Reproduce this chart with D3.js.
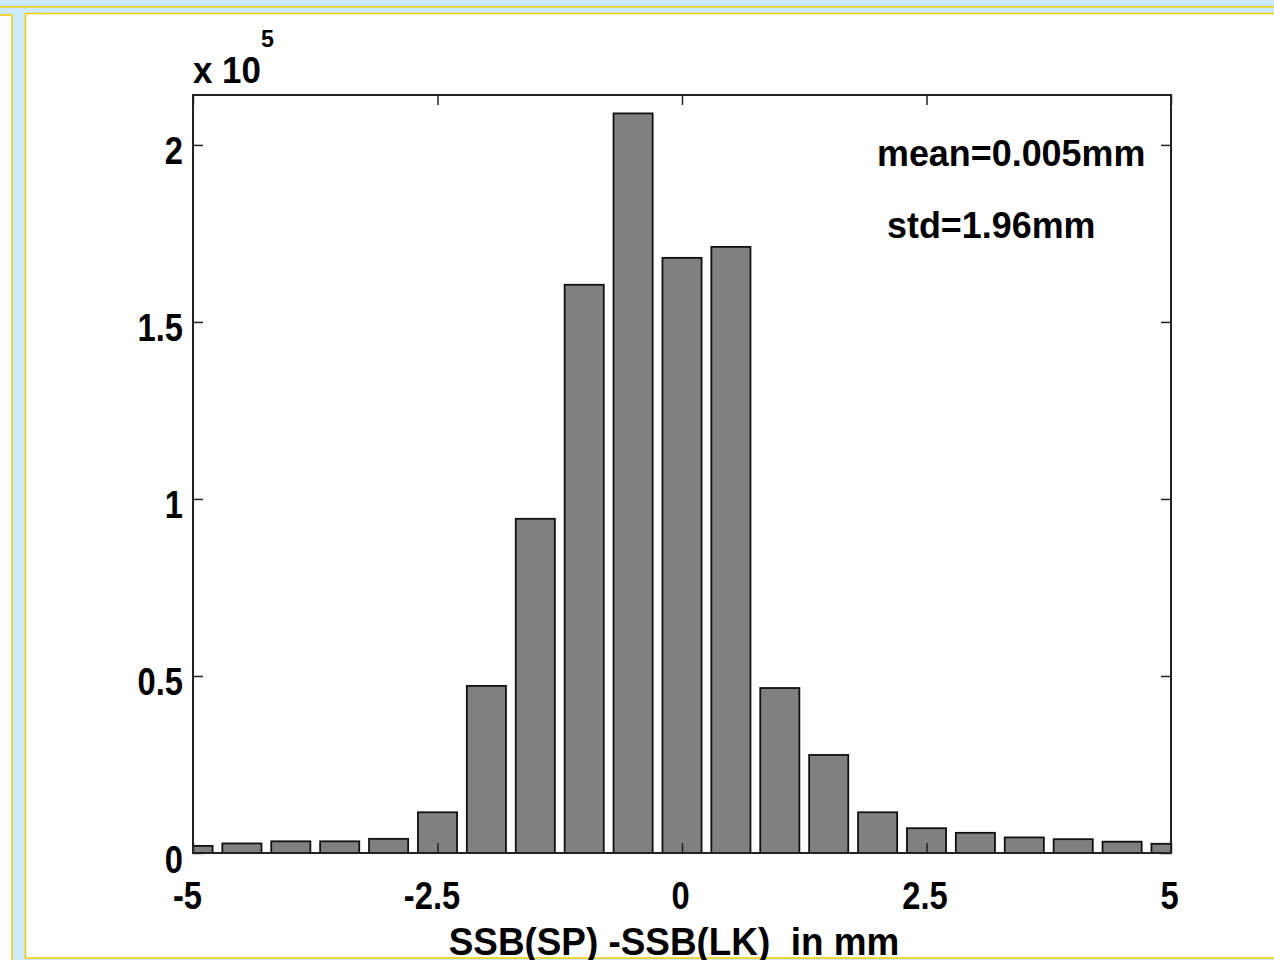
<!DOCTYPE html>
<html lang="en">
<head>
    <meta charset="UTF-8">
    <title>SSB difference histogram</title>
    <script src="https://d3js.org/d3.v7.min.js"></script>
    <style>
        body { margin: 0; background: #cdeafc; }
        text { font-family: "Liberation Sans", Arial, sans-serif; font-weight: bold; fill: #000; }
    </style>
</head>
<body>
    <div id="my_hist"></div>
</body>
</html>

<script>
// bin centres (mm) and counts (x 10^5)
var binCenters = [-5, -4.5, -4, -3.5, -3, -2.5, -2, -1.5, -1, -0.5, 0, 0.5, 1, 1.5, 2, 2.5, 3, 3.5, 4, 4.5, 5];
var counts = [0.020, 0.027, 0.033, 0.033, 0.040, 0.115, 0.472, 0.944, 1.605, 2.089, 1.681, 1.712,
              0.466, 0.277, 0.115, 0.070, 0.057, 0.044, 0.039, 0.032, 0.026];
var xTicks = [-5, -2.5, 0, 2.5, 5];
var yTicks = [0, 0.5, 1, 1.5, 2];
var statsLines = ["mean=0.005mm", "std=1.96mm"];
var xLabel = "SSB(SP) -SSB(LK)  in mm";

var W = 1274, H = 960;
var margin = {top: 95, right: 103, bottom: 107, left: 193},
    width = W - margin.left - margin.right,
    height = H - margin.top - margin.bottom;

var svg = d3.select("#my_hist")
    .append("svg")
        .attr("width", W)
        .attr("height", H);

// window frame around the figure
svg.append("rect").attr("x", 0).attr("y", 0).attr("width", W).attr("height", H).attr("fill", "#cdeafc");
svg.append("rect").attr("x", 0).attr("y", 6).attr("width", W).attr("height", 1.5).attr("fill", "#f8c800");
svg.append("rect").attr("x", -2).attr("y", 15).attr("width", 14).attr("height", H).attr("fill", "#fff")
    .attr("stroke", "#f8c800").attr("stroke-width", 1.5);
svg.append("rect").attr("x", 25.5).attr("y", 13.5).attr("width", W).attr("height", 944.5).attr("fill", "#fff")
    .attr("stroke", "#f8c800").attr("stroke-width", 1.5);

var g = svg.append("g")
    .attr("transform", "translate(" + margin.left + "," + margin.top + ")");

var x = d3.scaleLinear().domain([-5, 5]).range([0, width]);
var y = d3.scaleLinear().domain([0, 2.141]).range([height, 0]);
var binW = 0.5 * 0.8;
var plain = function(d) { return String(d); };

g.append("clipPath").attr("id", "clip")
    .append("rect").attr("width", width).attr("height", height);

//bars
g.append("g").attr("clip-path", "url(#clip)")
    .selectAll("rect")
    .data(counts)
    .enter()
    .append("rect")
    .attr("x", function(d, i) { return x(binCenters[i] - binW / 2); })
    .attr("y", function(d) { return y(d); })
    .attr("width", function(d, i) { return x(binCenters[i] + binW / 2) - x(binCenters[i] - binW / 2); })
    .attr("height", function(d) { return height - y(d); })
    .attr("fill", "#808080")
    .attr("stroke", "#111")
    .attr("stroke-width", 1.8);

function styleAxis(sel) {
    sel.select(".domain").remove();
    sel.selectAll(".tick line").attr("stroke", "#222").attr("stroke-width", 1.5);
    sel.selectAll("text").attr("font-size", 38).attr("font-family", null).attr("class", "ticklab");
}

//x axis (bottom with labels, top ticks only)
var xb = g.append("g")
    .attr("transform", "translate(0," + height + ")")
    .call(d3.axisBottom(x).tickValues(xTicks).tickSize(-10).tickPadding(29).tickFormat(plain));
styleAxis(xb);
xb.selectAll("text").attr("dx", function(d) { return d < 0 ? -6 : -2; });
var xt = g.append("g")
    .call(d3.axisTop(x).tickValues(xTicks).tickSize(-10).tickFormat(""));
styleAxis(xt);

//y axis (left with labels, right ticks only)
var yl = g.append("g")
    .call(d3.axisLeft(y).tickValues(yTicks).tickSize(-10).tickPadding(10).tickFormat(plain));
styleAxis(yl);
yl.selectAll("text").attr("dy", "0.5em");
var yr = g.append("g")
    .attr("transform", "translate(" + width + ",0)")
    .call(d3.axisRight(y).tickValues(yTicks).tickSize(-10).tickFormat(""));
styleAxis(yr);

// box
g.append("rect")
    .attr("width", width).attr("height", height)
    .attr("fill", "none").attr("stroke", "#222").attr("stroke-width", 2);

// exponent label
g.append("text").attr("x", 0).attr("y", -12).attr("font-size", 36).text("x 10");
svg.append("text").attr("x", 261).attr("y", 47).attr("font-size", 24).text("5");

// stats
g.selectAll(".stat")
    .data(statsLines)
    .enter()
    .append("text")
    .attr("class", "stat")
    .attr("x", function(d, i) { return i === 0 ? 684 : 694; })
    .attr("y", function(d, i) { return 71 + i * 72; })
    .attr("font-size", 37)
    .text(function(d) { return d; });

// x label
g.append("text")
    .attr("x", x(0) - 8)
    .attr("y", height + 102)
    .attr("text-anchor", "middle")
    .attr("font-size", 38)
    .style("white-space", "pre")
    .text(xLabel);

// condensed look of the original font
svg.selectAll("text").each(function() {
    var t = d3.select(this);
    if (!t.text()) return;
    var k = t.classed("ticklab") ? 0.86 : 0.97;
    t.attr("textLength", this.getComputedTextLength() * k).attr("lengthAdjust", "spacingAndGlyphs");
});
</script>
